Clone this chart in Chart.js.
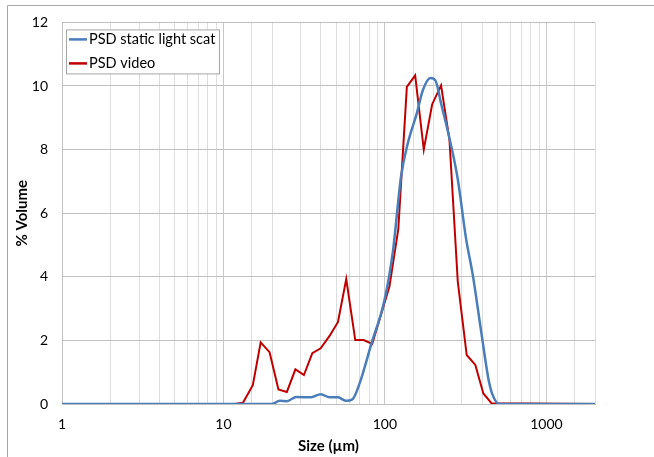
<!DOCTYPE html>
<html><head><meta charset="utf-8">
<script src="https://cdn.jsdelivr.net/npm/chart.js@4/dist/chart.umd.min.js"></script>
<style>html,body{margin:0;padding:0;background:#fff}canvas{display:block}</style>
</head><body>
<canvas id="c" width="654" height="457"></canvas>
<script>
const blueLabel = "PSD static light scat";
const redLabel = "PSD video";
const blueSize = [1, 20, 22.3, 24.7, 28.3, 35, 40, 45.4, 51.2, 57.6, 63, 69.6, 82.4, 99.5, 112, 126, 138.6, 157.5, 171.5, 191.4, 205.6, 222.7, 251, 282.6, 318, 350, 394, 439, 465, 512, 2000];
const blueVol  = [0, 0, 0.1, 0.09, 0.22, 0.21, 0.31, 0.21, 0.21, 0.1, 0.15, 0.64, 1.89, 3.28, 4.79, 7.17, 8.2, 9.14, 9.86, 10.25, 10.17, 9.45, 8.36, 7.07, 5.2, 4.06, 2.3, 0.75, 0.28, 0, 0];
const redSize = [9.2, 10.4, 11.7, 13.2, 15.2, 17.0, 19.3, 21.9, 24.7, 27.9, 31.5, 35.5, 40, 45.4, 51.2, 57.6, 65.5, 73.8, 83.4, 94.8, 106.7, 121, 136.7, 153.9, 174, 196, 222.7, 251, 282.6, 321, 363, 407, 458, 2000];
const redVol  = [0, 0, 0, 0.04, 0.59, 1.94, 1.63, 0.46, 0.38, 1.09, 0.91, 1.6, 1.75, 2.14, 2.58, 3.93, 2.01, 2.01, 1.89, 2.82, 3.7, 5.5, 9.97, 10.33, 8.0, 9.42, 10.02, 8.31, 3.85, 1.54, 1.23, 0.33, 0.02, 0];
const xTickLabels = [1, 10, 100, 1000];
const yTicks = [0, 2, 4, 6, 8, 10, 12];

const FONT = "Lato, 'Open Sans', 'Liberation Sans', sans-serif";
const toPts = (xs, ys) => xs.map((x, i) => ({x: x, y: ys[i]}));

const frame = {
  id: 'frame',
  beforeDraw(chart) {
    const ctx = chart.ctx;
    ctx.save();
    ctx.fillStyle = '#fff';
    ctx.fillRect(0, 0, chart.width, chart.height);
    ctx.strokeStyle = '#a6a6a6';
    ctx.lineWidth = 1;
    ctx.beginPath();
    ctx.moveTo(7.5, chart.height);
    ctx.lineTo(7.5, 5.5);
    ctx.lineTo(chart.width, 5.5);
    ctx.stroke();
    ctx.restore();
  }
};

const boxLegend = {
  id: 'boxLegend',
  afterDatasetsDraw(chart) {
    const ctx = chart.ctx;
    const a = chart.chartArea;
    const x0 = a.left + 4, y0 = a.top + 7, w = 153, h = 44;
    ctx.save();
    ctx.fillStyle = '#fff';
    ctx.fillRect(x0, y0, w, h);
    ctx.strokeStyle = '#a6a6a6';
    ctx.lineWidth = 1;
    ctx.strokeRect(x0 + 0.5, y0 + 0.5, w, h);
    ctx.font = "14.5px " + FONT;
    ctx.textBaseline = 'middle';
    chart.data.datasets.forEach((ds, i) => {
      const yy = y0 + 10 + i * 24;
      ctx.strokeStyle = ds.borderColor;
      ctx.lineWidth = 2.5;
      ctx.beginPath();
      ctx.moveTo(x0 + 3, yy);
      ctx.lineTo(x0 + 21, yy);
      ctx.stroke();
      ctx.fillStyle = '#000';
      ctx.fillText(ds.label, x0 + 23, yy);
    });
    ctx.restore();
  }
};

new Chart(document.getElementById('c'), {
  type: 'line',
  data: {
    datasets: [
      { label: blueLabel, data: toPts(blueSize, blueVol), borderColor: '#4a7ebb', borderWidth: 2.5,
        pointRadius: 0, tension: 0.4, cubicInterpolationMode: 'monotone', fill: false },
      { label: redLabel, data: toPts(redSize, redVol), borderColor: '#c00000', borderWidth: 2,
        pointRadius: 0, tension: 0, fill: false }
    ]
  },
  options: {
    responsive: false,
    animation: false,
    devicePixelRatio: 1,
    layout: { autoPadding: false, padding: { left: 8, top: 18, right: 59, bottom: 0 } },
    plugins: { legend: { display: false }, tooltip: { enabled: false } },
    scales: {
      x: {
        type: 'logarithmic', min: 1, max: 2000,
        afterFit(s) { s.height = 53; },
        border: { color: '#bfbfbf', width: 1 },
        grid: {
          drawTicks: false,
          color: (c) => {
            const v = c.tick ? c.tick.value : 0;
            const l = Math.log10(v);
            return Math.abs(l - Math.round(l)) < 1e-9 ? '#c8c8c8' : '#dedede';
          },
          lineWidth: 1
        },
        ticks: {
          autoSkip: false, maxRotation: 0, padding: 12,
          color: '#000', font: { family: FONT, size: 14 },
          callback: (v) => xTickLabels.includes(v) ? String(v) : ''
        },
        title: { display: true, text: 'Size (µm)', color: '#000',
          font: { family: FONT, size: 15, weight: 'bold' }, padding: { top: 0, bottom: 2 } }
      },
      y: {
        min: 0, max: 12,
        afterFit(s) { s.width = 54; },
        afterBuildTicks(s) { s.ticks = yTicks.map(v => ({value: v})); },
        border: { color: '#bfbfbf', width: 1 },
        grid: { drawTicks: false, color: '#c0c0c0', lineWidth: 1 },
        ticks: { padding: 14, color: '#000', font: { family: FONT, size: 14 } },
        title: { display: true, text: '% Volume', color: '#000',
          font: { family: FONT, size: 15, weight: 'bold' }, padding: { top: 5, bottom: 0 } }
      }
    }
  },
  plugins: [frame, boxLegend]
});
</script>
</body></html>
